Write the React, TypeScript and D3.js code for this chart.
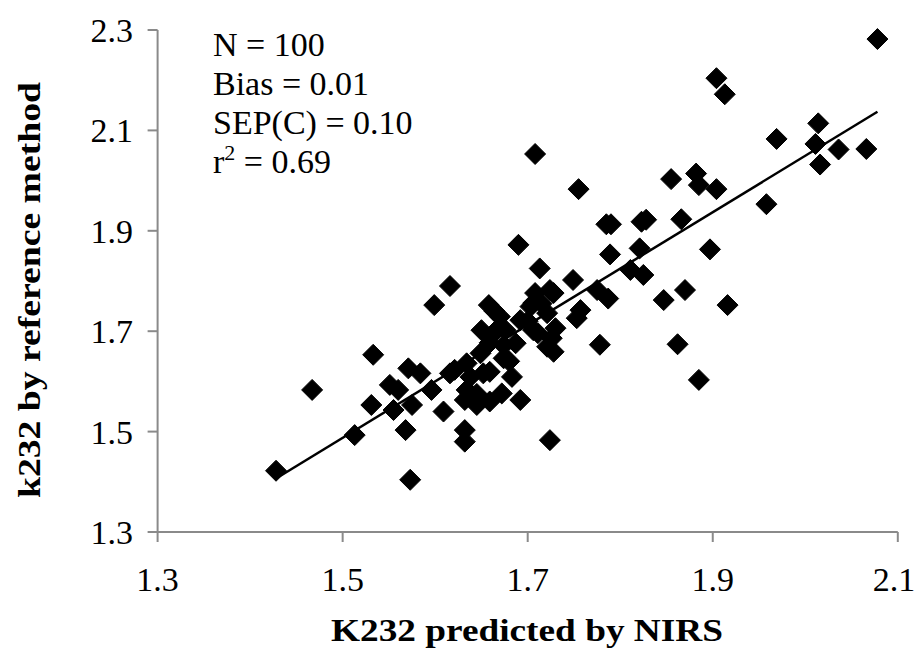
import React from "react";
import * as d3 from "d3";

// K232 predicted by NIRS (x) vs. reference method (y)
const predicted: number[] = [
  1.428, 1.467, 1.513, 1.533, 1.531, 1.551, 1.560, 1.555, 1.568, 1.573,
  1.575, 1.571, 1.584, 1.596, 1.599, 1.609, 1.616, 1.616, 1.621, 1.632,
  1.632, 1.632, 1.634, 1.634, 1.638, 1.645, 1.649, 1.650, 1.652, 1.658,
  1.659, 1.659, 1.659, 1.670, 1.672, 1.674, 1.674, 1.676, 1.683, 1.687,
  1.690, 1.692, 1.692, 1.664, 1.703, 1.706, 1.706, 1.708, 1.708, 1.713,
  1.711, 1.721, 1.721, 1.724, 1.724, 1.726, 1.730, 1.728, 1.728, 1.749,
  1.753, 1.757, 1.755, 1.775, 1.778, 1.787, 1.785, 1.790, 1.789, 1.811,
  1.823, 1.828, 1.821, 1.825, 1.847, 1.855, 1.862, 1.866, 1.870, 1.882,
  1.885, 1.885, 1.897, 1.904, 1.904, 1.913, 1.916, 1.958, 1.969, 2.011,
  2.014, 2.016, 2.036, 2.066, 2.078, 1.645, 1.665, 1.700, 1.715, 1.680,
];

const reference: number[] = [
  1.422, 1.583, 1.493, 1.653, 1.553, 1.593, 1.583, 1.543, 1.503, 1.404,
  1.553, 1.626, 1.616, 1.583, 1.752, 1.540, 1.790, 1.616, 1.623, 1.563,
  1.503, 1.480, 1.636, 1.583, 1.609, 1.553, 1.656, 1.702, 1.616, 1.752,
  1.619, 1.560, 1.677, 1.729, 1.576, 1.672, 1.646, 1.702, 1.609, 1.676,
  1.872, 1.563, 1.722, 1.740, 1.749, 1.702, 1.756, 2.053, 1.776, 1.825,
  1.696, 1.736, 1.669, 1.782, 1.483, 1.686, 1.706, 1.659, 1.776, 1.802,
  1.726, 1.742, 1.983, 1.782, 1.673, 1.765, 1.913, 1.913, 1.853, 1.822,
  1.918, 1.922, 1.865, 1.812, 1.762, 2.003, 1.674, 1.923, 1.782, 2.014,
  1.991, 1.603, 1.863, 1.983, 2.204, 2.172, 1.752, 1.953, 2.083, 2.073,
  2.114, 2.032, 2.062, 2.063, 2.282, 1.575, 1.700, 1.720, 1.755, 1.640,
];

const xTicks: number[] = [1.3, 1.5, 1.7, 1.9, 2.1];
const yTicks: number[] = [1.3, 1.5, 1.7, 1.9, 2.1, 2.3];

const statsLines: string[] = ["N = 100", "Bias = 0.01", "SEP(C) = 0.10"];
const r2Value = "0.69";

const W = 917;
const H = 657;
const left = 157.6;
const right = 897.8;
const top = 30;
const bottom = 532;

const axisColor = "#8a8a8a";
const serif = "'Liberation Serif', 'Times New Roman', serif";

export default function App() {
  const x = d3.scaleLinear().domain([1.3, 2.1]).range([left, right]);
  const y = d3.scaleLinear().domain([1.3, 2.3]).range([bottom, top]);

  const pts = predicted.map((p, i) => ({ p, r: reference[i] }));

  // least-squares trend line over the observed range
  const mx = d3.mean(predicted) as number;
  const my = d3.mean(reference) as number;
  let sxy = 0;
  let sxx = 0;
  pts.forEach(({ p, r }) => {
    sxy += (p - mx) * (r - my);
    sxx += (p - mx) * (p - mx);
  });
  const slope = sxy / sxx;
  const intercept = my - slope * mx;
  const [x0, x1] = d3.extent(predicted) as [number, number];
  const trend = d3.line<number>()
    .x((d) => x(d))
    .y((d) => y(intercept + slope * d))([x0, x1]);

  const s = 10.5;
  const diamond = `M0,${-s}L${s},0L0,${s}L${-s},0Z`;
  const tickFont = 34;

  return (
    <svg width={W} height={H} style={{ display: "block", position: "absolute", left: 0, top: 0 }}>
      <rect width={W} height={H} fill="#fff" />

      {/* axes */}
      <line x1={left} x2={left} y1={top} y2={bottom} stroke={axisColor} strokeWidth={2} />
      <line x1={left} x2={right} y1={bottom} y2={bottom} stroke={axisColor} strokeWidth={2} />
      {yTicks.map((t) => (
        <g key={`y${t}`}>
          <line x1={left - 10} x2={left} y1={y(t)} y2={y(t)} stroke={axisColor} strokeWidth={2} />
          <text x={133} y={y(t) + 12} textAnchor="end" fontFamily={serif} fontSize={tickFont} fill="#000">
            {t.toFixed(1)}
          </text>
        </g>
      ))}
      {xTicks.map((t) => (
        <g key={`x${t}`}>
          <line x1={x(t)} x2={x(t)} y1={bottom} y2={bottom + 10} stroke={axisColor} strokeWidth={2} />
          <text x={Math.min(x(t), W - 23)} y={591} textAnchor="middle" fontFamily={serif}
            fontSize={tickFont} fill="#000">
            {t.toFixed(1)}
          </text>
        </g>
      ))}

      {/* axis titles */}
      <text x={527} y={641} textAnchor="middle" fontFamily={serif} fontWeight="bold" fontSize={31}
        textLength={392} lengthAdjust="spacingAndGlyphs" fill="#000">
        K232 predicted by NIRS
      </text>
      <text transform={`translate(40,290) rotate(-90)`} textAnchor="middle" fontFamily={serif}
        fontWeight="bold" fontSize={31} textLength={416} lengthAdjust="spacingAndGlyphs" fill="#000">
        k232 by reference method
      </text>

      {/* statistics */}
      {statsLines.map((s2, i) => (
        <text key={s2} x={213} y={56 + i * 39} fontFamily={serif} fontSize={34} fill="#000">
          {s2}
        </text>
      ))}
      <text x={213} y={56 + 3 * 39} fontFamily={serif} fontSize={34} fill="#000">
        r<tspan fontSize={22} dy={-13}>2</tspan><tspan dy={13}>{` = ${r2Value}`}</tspan>
      </text>

      {/* points */}
      {pts.map(({ p, r }, i) => (
        <path key={i} d={diamond} transform={`translate(${x(p)},${y(r)})`} fill="#000"
          stroke="#000" strokeWidth={1} strokeLinejoin="round" />
      ))}

      {/* trend line */}
      <path d={trend ?? ""} stroke="#000" strokeWidth={2.5} fill="none" />
    </svg>
  );
}
